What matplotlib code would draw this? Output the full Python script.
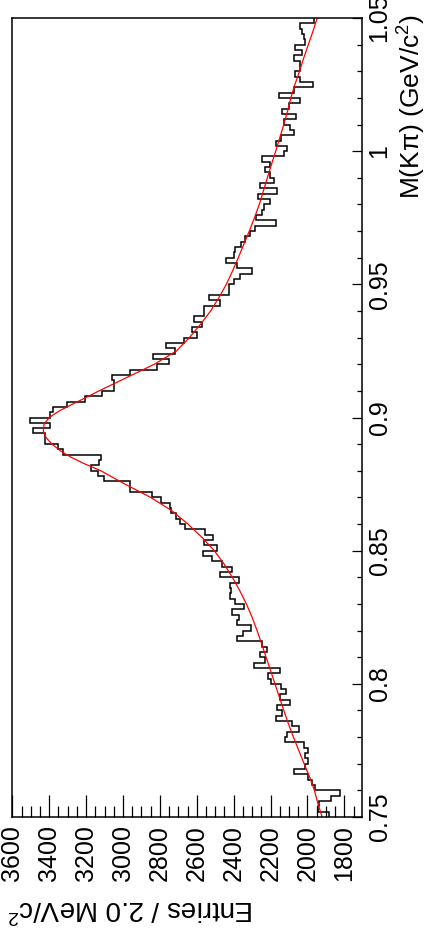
import numpy as np
import matplotlib
matplotlib.use("Agg")
import matplotlib.pyplot as plt
from matplotlib.ticker import MultipleLocator, FixedLocator, FixedFormatter

plt.rcParams["font.family"] = ["Liberation Sans", "DejaVu Sans"]
plt.rcParams["mathtext.fontset"] = "custom"
plt.rcParams["mathtext.rm"] = "Liberation Sans"
plt.rcParams["mathtext.it"] = "Liberation Sans:italic"

# M(Kpi) histogram, 2 MeV bins from 0.75 to 1.05 GeV
M_LO, M_HI = 0.75, 1.05
counts = [
    1882, 1942, 1936, 1873, 1822, 1958, 1976, 1996, 2073, 2015,
    1995, 2015, 1996, 2018, 2122, 2109, 2045, 2082, 2169, 2136,
    2164, 2095, 2149, 2118, 2145, 2197, 2213, 2150, 2287, 2228,
    2258, 2219, 2246, 2381, 2349, 2304, 2381, 2372, 2407, 2345,
    2394, 2418, 2414, 2421, 2372, 2475, 2409, 2463, 2517, 2566,
    2490, 2562, 2512, 2557, 2662, 2689, 2711, 2740, 2743, 2794,
    2843, 2960, 2960, 3105, 3137, 3172, 3130, 3119, 3326, 3354,
    3421, 3421, 3488, 3394, 3503, 3394, 3382, 3304, 3204, 3114,
    3047, 3051, 3060, 2964, 2816, 2752, 2837, 2716, 2767, 2671,
    2599, 2626, 2571, 2617, 2562, 2559, 2472, 2533, 2427, 2427,
    2400, 2367, 2300, 2381, 2439, 2396, 2391, 2360, 2336, 2309,
    2282, 2168, 2277, 2246, 2233, 2201, 2269, 2165, 2255, 2183,
    2204, 2231, 2201, 2246, 2128, 2110, 2168, 2143, 2074, 2096,
    2125, 2060, 2137, 2101, 2042, 2155, 2074, 1969, 2038, 2065,
    2042, 2038, 2074, 2029, 2065, 2011, 2020, 2029, 2038, 1966,
]

# fitted curve (red)
fit_mass = [0.750, 0.755, 0.760, 0.765, 0.770, 0.775, 0.780, 0.785, 0.790, 0.795,
            0.800, 0.805, 0.810, 0.815, 0.820, 0.825, 0.830, 0.835, 0.840, 0.845,
            0.850, 0.855, 0.860, 0.865, 0.870, 0.875, 0.880, 0.8825, 0.885, 0.8875,
            0.890, 0.8925, 0.895, 0.8975, 0.900, 0.9025, 0.905, 0.9075, 0.910, 0.915,
            0.920, 0.925, 0.930, 0.935, 0.940, 0.945, 0.950, 0.955, 0.960, 0.965,
            0.970, 0.975, 0.980, 0.985, 0.990, 0.995, 1.000, 1.005, 1.010, 1.015,
            1.020, 1.025, 1.030, 1.035, 1.040, 1.045, 1.050]
fit_entries = [1920, 1943, 1962, 1988, 2018, 2047, 2076, 2103, 2128, 2152,
               2176, 2200, 2224, 2248, 2273, 2300, 2331, 2367, 2407, 2452,
               2505, 2572, 2648, 2735, 2850, 2990, 3120, 3205, 3280, 3340,
               3385, 3418, 3432, 3428, 3400, 3345, 3275, 3200, 3130, 2980,
               2830, 2710, 2640, 2580, 2525, 2480, 2440, 2406, 2375, 2345,
               2315, 2287, 2261, 2239, 2217, 2195, 2172, 2150, 2128, 2108,
               2090, 2068, 2043, 2020, 1995, 1970, 1947]

mass_ticks = [0.75, 0.80, 0.85, 0.90, 0.95, 1.00, 1.05]
mass_tick_labels = ["0.75", "0.8", "0.85", "0.9", "0.95", "1", "1.05"]
entry_ticks = [1800, 2000, 2200, 2400, 2600, 2800, 3000, 3200, 3400, 3600]
entry_tick_labels = ["1800", "2000", "2200", "2400", "2600", "2800", "3000", "3200", "3400", "3600"]

# the whole ROOT canvas is turned 90 deg: mass runs up, entries run right-to-left
W, H = 427, 932
fig = plt.figure(figsize=(W / 100, H / 100), dpi=100)
ax = fig.add_axes([12 / W, (H - 817) / H, 350 / W, 799 / H])

edges = np.linspace(M_LO, M_HI, len(counts) + 1)
ax.stairs(counts, edges, orientation="horizontal", baseline=None, color="black", lw=1.1)
ax.plot(fit_entries, fit_mass, color="red", lw=0.9)

ax.set_xlim(3602, 1704)
ax.set_ylim(M_LO, M_HI)

ax.yaxis.tick_right()
ax.yaxis.set_major_locator(FixedLocator(mass_ticks))
ax.yaxis.set_major_formatter(FixedFormatter(mass_tick_labels))
ax.yaxis.set_minor_locator(MultipleLocator(0.01))
ax.xaxis.set_major_locator(FixedLocator(entry_ticks))
ax.xaxis.set_major_formatter(FixedFormatter(entry_tick_labels))
ax.xaxis.set_minor_locator(MultipleLocator(50))

ax.tick_params(axis="x", which="major", direction="in", length=16, width=0.9,
               labelsize=18, pad=6, top=False, labelrotation=90)
ax.tick_params(axis="x", which="minor", direction="in", length=8, width=0.9, top=False)
ax.tick_params(axis="y", which="major", direction="in", length=7, width=0.9,
               labelsize=18, pad=4, left=False, labelrotation=90)
ax.tick_params(axis="y", which="minor", direction="in", length=3.6, width=0.9, left=False)
for lab in ax.get_yticklabels():
    lab.set_verticalalignment("center")
for sp in ax.spines.values():
    sp.set_linewidth(1.1)

fig.text(396 / W, 1 - 14 / H, "M(K\u03c0) (GeV/c$^{2}$)", rotation=90,
         ha="left", va="top", fontsize=19)
fig.text(7 / W, 1 - 894 / H, "Entries / 2.0 MeV/c$^{2}$", rotation=180,
         ha="left", va="top", fontsize=20)

fig.savefig("out.png", dpi=100)
